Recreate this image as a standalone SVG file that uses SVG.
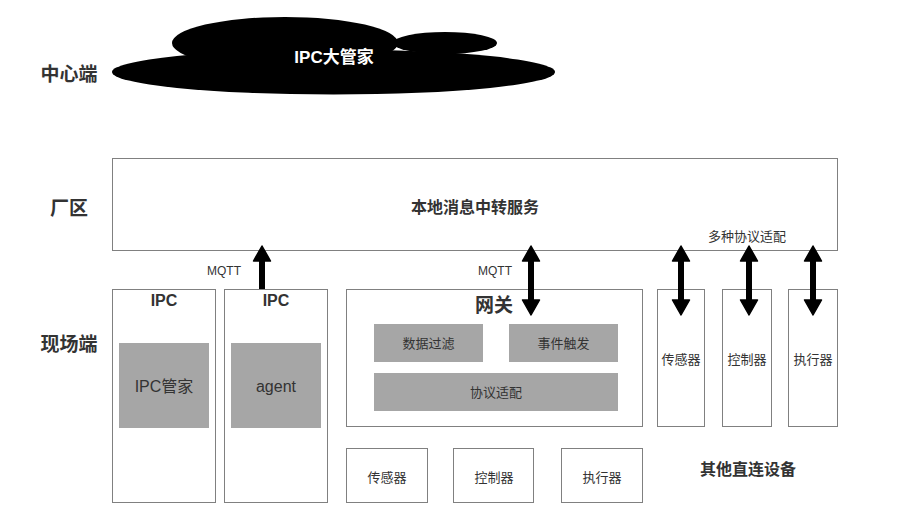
<svg xmlns="http://www.w3.org/2000/svg" width="906" height="528" viewBox="0 0 906 528">
<defs>
<style>
text{font-family:"Liberation Sans","Noto Sans CJK SC",sans-serif;fill:#333;text-anchor:middle;dominant-baseline:central}
.b{font-weight:bold}
.box{fill:#fff;stroke:#808080;stroke-width:1}
.gray{fill:#a6a6a6;stroke:none}
.arr{stroke:#000;stroke-width:6;fill:none}
</style>
<marker id="ah" markerUnits="userSpaceOnUse" markerWidth="18" markerHeight="20" viewBox="0 0 18 20" refX="1" refY="10" orient="auto-start-reverse">
<path d="M1,1.5 L16,10 L1,18.5 Z" fill="#000" stroke="#000" stroke-width="1.5" stroke-linejoin="round"/>
</marker>
</defs>
<rect width="906" height="528" fill="#fff"/>

<g id="labels">
<text x="69" y="74" class="b" font-size="19">中心端</text>
<text x="69" y="208" class="b" font-size="19">厂区</text>
<text x="69" y="344" class="b" font-size="19">现场端</text>
</g>

<g id="cloud">
<ellipse cx="285" cy="43" rx="113" ry="26" fill="#000"/>
<ellipse cx="445" cy="43" rx="52" ry="11" fill="#000"/>
<ellipse cx="333.5" cy="72" rx="221.5" ry="22.5" fill="#000"/>
<text x="334" y="57" class="b" font-size="17" style="fill:#fff">IPC大管家</text>
</g>

<g id="factory">
<rect class="box" x="112.5" y="158.5" width="725" height="92"/>
<text x="475" y="207" class="b" font-size="16">本地消息中转服务</text>
<text x="747" y="236" font-size="13">多种协议适配</text>
</g>

<g id="ipc1">
<rect class="box" x="112.5" y="289.5" width="103" height="213"/>
<text x="164" y="300" class="b" font-size="16">IPC</text>
<rect class="gray" x="119" y="343" width="90" height="85"/>
<text x="164" y="386" font-size="16">IPC管家</text>
</g>

<g id="ipc2">
<rect class="box" x="224.5" y="289.5" width="103" height="213"/>
<text x="276" y="300" class="b" font-size="16">IPC</text>
<rect class="gray" x="231" y="343" width="90" height="85"/>
<text x="276" y="386" font-size="16">agent</text>
</g>

<g id="gateway">
<rect class="box" x="346.5" y="289.5" width="296" height="137"/>
<text x="494" y="305" class="b" font-size="19">网关</text>
<rect class="gray" x="374" y="324" width="109" height="38"/>
<text x="428.5" y="343" font-size="13">数据过滤</text>
<rect class="gray" x="509" y="324" width="109" height="38"/>
<text x="563.5" y="343" font-size="13">事件触发</text>
<rect class="gray" x="374" y="373" width="244" height="38"/>
<text x="496" y="392" font-size="13">协议适配</text>
</g>

<g id="dev-sensor">
<rect class="box" x="346.5" y="448.5" width="81" height="54"/>
<text x="387" y="477" font-size="13">传感器</text>
</g>
<g id="dev-controller">
<rect class="box" x="453.5" y="448.5" width="80" height="54"/>
<text x="494" y="477" font-size="13">控制器</text>
</g>
<g id="dev-actuator">
<rect class="box" x="561.5" y="448.5" width="81" height="54"/>
<text x="602" y="477" font-size="13">执行器</text>
</g>

<g id="direct-sensor">
<rect class="box" x="657.5" y="289.5" width="47" height="137"/>
<text x="681" y="359" font-size="13">传感器</text>
</g>
<g id="direct-controller">
<rect class="box" x="722.5" y="289.5" width="49" height="137"/>
<text x="747" y="359" font-size="13">控制器</text>
</g>
<g id="direct-actuator">
<rect class="box" x="788.5" y="289.5" width="49" height="137"/>
<text x="813" y="359" font-size="13">执行器</text>
</g>
<text x="748" y="469" class="b" font-size="16">其他直连设备</text>

<g id="connectors">
<line class="arr" x1="262" y1="289" x2="262" y2="261" marker-end="url(#ah)"/>
<text x="224" y="271" font-size="12">MQTT</text>
<line class="arr" x1="531" y1="261" x2="531" y2="300" marker-start="url(#ah)" marker-end="url(#ah)"/>
<text x="495" y="271" font-size="12">MQTT</text>
<line class="arr" x1="681" y1="261" x2="681" y2="300" marker-start="url(#ah)" marker-end="url(#ah)"/>
<line class="arr" x1="749" y1="261" x2="749" y2="300" marker-start="url(#ah)" marker-end="url(#ah)"/>
<line class="arr" x1="813" y1="261" x2="813" y2="300" marker-start="url(#ah)" marker-end="url(#ah)"/>
</g>
</svg>
